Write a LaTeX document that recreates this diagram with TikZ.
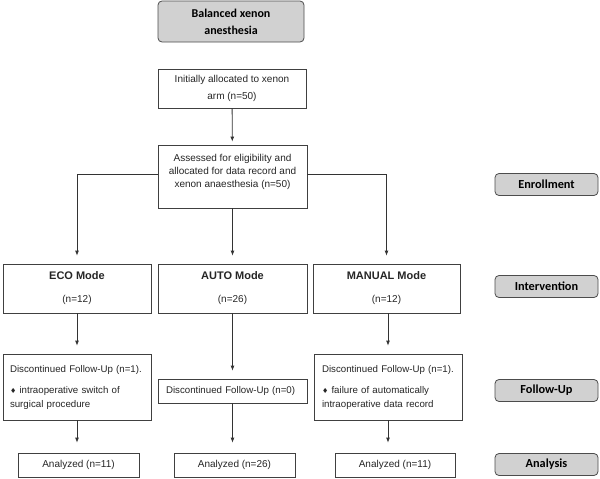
\documentclass[tikz,border=0pt]{standalone}
\usepackage{fontspec}
\setmainfont{Liberation Sans}
\newfontfamily\calibri{Carlito}
\newfontfamily\dejavu{DejaVu Sans}
\usetikzlibrary{arrows.meta}

\begin{document}
\begin{tikzpicture}[x=1pt, y=-1pt,
    box/.style={draw=black!75, line width=0.8pt, fill=white, inner sep=0pt, text=black!85, font=\fontsize{10}{13}\selectfont},
    fubox/.style={box, align=left, font=\fontsize{9.7}{14}\selectfont},
    phase/.style={draw=black!70, line width=0.8pt, fill=black!18, rounded corners=4pt, inner sep=0pt, minimum width=103pt, minimum height=22pt, font=\calibri\bfseries\fontsize{12.3}{17}\selectfont},
    arr/.style={->, >={Latex[length=5pt, width=4pt]}, black!80, line width=0.8pt, shorten >=8pt}]
    \useasboundingbox (0, 0) rectangle (600, 479);

    % enrollment
    \node[phase, minimum width=146pt, minimum height=41pt, align=center, font=\calibri\bfseries\fontsize{12}{17}\selectfont] (bal) at (231, 21.5) {Balanced xenon\\anesthesia};
    \node[box, minimum width=148pt, minimum height=39pt, align=center, font=\fontsize{10}{17}\selectfont] (init) at (232, 88.5) {Initially allocated to xenon\\arm (n=50)};
    \node[box, minimum width=149pt, minimum height=63pt, align=center, text depth=12pt] (assess) at (232.5, 176.5) {Assessed for eligibility and\\allocated for data record and\\xenon anaesthesia (n=50)};

    % intervention
    \node[box, minimum width=148pt, minimum height=49pt, align=center, font=\fontsize{10}{23}\selectfont] (eco)    at ( 77.0, 288.5) {{\fontsize{11}{13}\selectfont\bfseries ECO Mode}\\(n=12)};
    \node[box, minimum width=149pt, minimum height=49pt, align=center, font=\fontsize{10}{23}\selectfont] (auto)   at (232.5, 288.5) {{\fontsize{11}{13}\selectfont\bfseries AUTO Mode}\\(n=26)};
    \node[box, minimum width=147pt, minimum height=49pt, align=center, font=\fontsize{10}{23}\selectfont] (manual) at (386.5, 288.5) {{\fontsize{11}{13}\selectfont\bfseries MANUAL Mode}\\(n=12)};

    % follow-up
    \node[fubox, minimum width=148pt, minimum height=66pt, text width=134pt] (ecofu) at ( 77.0, 387.0) {Discontinued Follow-Up (n=1).\\[7pt]{\dejavu\scriptsize ♦} intraoperative switch of\\surgical procedure};
    \node[fubox, minimum width=149pt, minimum height=24pt, text width=133pt] (autofu) at (232.5, 391.0) {Discontinued Follow-Up (n=0)};
    \node[fubox, minimum width=148pt, minimum height=66pt, text width=132pt] (manfu) at (388.0, 387.0) {Discontinued Follow-Up (n=1).\\[7pt]{\dejavu\scriptsize ♦} failure of automatically\\intraoperative data record};

    % analysis
    \node[box, minimum width=121pt, minimum height=24pt] (ecoan)  at ( 78.5, 465.0) {Analyzed (n=11)};
    \node[box, minimum width=121pt, minimum height=24pt] (autoan) at (234.5, 465.0) {Analyzed (n=26)};
    \node[box, minimum width=120pt, minimum height=24pt] (manan)  at (395.0, 465.0) {Analyzed (n=11)};

    % phases
    \node[phase] (enrol)  at (546.5, 184.5) {Enrollment};
    \node[phase] (interv) at (546.5, 286.5) {Intervention};
    \node[phase] (follow) at (546.5, 390.5) {Follow-Up};
    \node[phase] (analys) at (546.5, 464.5) {Analysis};

    % arrows
    \draw[arr, shorten >=3pt] (init) -- (assess);
    \draw[arr] ([yshift=2.5pt]assess.west) -| (eco.north);
    \draw[arr] ([yshift=2.5pt]assess.east) -| (manual.north);
    \draw[arr] (assess) -- (auto);
    \draw[arr] (eco) -- (ecofu);
    \draw[arr] (auto) -- (autofu);
    \draw[arr] (manfu.north |- manual.south) -- (manfu.north);
    \draw[arr, shorten >=10pt] (ecofu.south) -- (ecofu.south |- ecoan.north);
    \draw[arr, shorten >=10pt] (autofu.south) -- (autofu.south |- autoan.north);
    \draw[arr, shorten >=10pt] (manfu.south) -- (manfu.south |- manan.north);
\end{tikzpicture}
\end{document}
